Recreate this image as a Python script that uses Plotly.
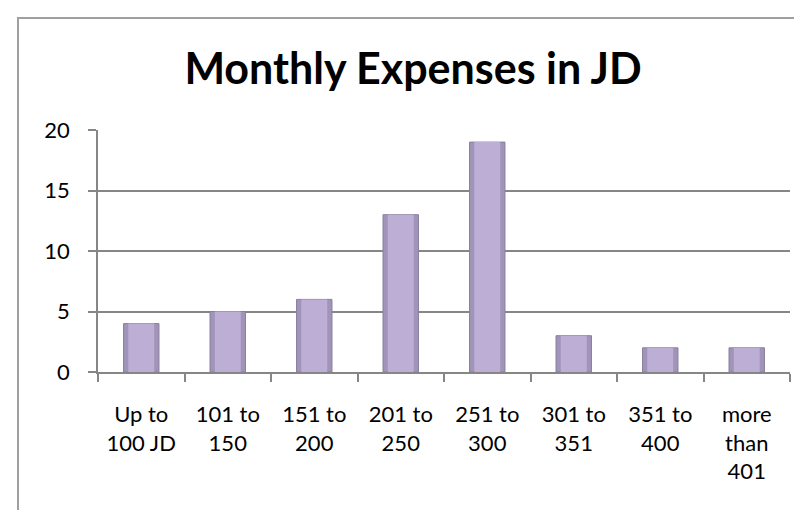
import plotly.graph_objects as go

categories = ["Up to<br>100 JD", "101 to<br>150", "151 to<br>200", "201 to<br>250",
              "251 to<br>300", "301 to<br>351", "351 to<br>400", "more<br>than<br>401"]
counts = [4, 5, 6, 13, 19, 3, 2, 2]
y_ticks = [0, 5, 10, 15, 20]
title_text = "Monthly Expenses in JD"

W, H = 802, 510
L, R, T, B = 90, 20, 122, 146
FONT = "Lato, Carlito, Calibri, sans-serif"
GRID = "#868686"

fig = go.Figure()
# outer (darker edge) bar
fig.add_trace(go.Bar(
    x=categories, y=counts, width=0.41,
    marker=dict(color="#A094B8", line=dict(color="#8A7FA0", width=1)),
    hoverinfo="skip", showlegend=False,
))
# inner (lighter face) bar
fig.add_trace(go.Bar(
    x=categories, y=counts, width=0.30,
    marker=dict(color="#BDAED6", line=dict(width=0)),
    showlegend=False,
))

pw = W - L - R
ph = H - T - B
bx = (10 - L) / pw
by = (H - B - 10) / ph

fig.update_layout(
    width=W, height=H,
    margin=dict(l=L, r=R, t=T, b=B, pad=0),
    paper_bgcolor="white", plot_bgcolor="white",
    barmode="overlay",
    font=dict(family=FONT, size=22, color="black"),
    title=dict(text="<b>" + title_text + "</b>", x=0.505, xanchor="center",
               y=1 - 61 / H, yanchor="middle", yref="container",
               font=dict(family=FONT, size=43, color="black")),
    xaxis=dict(
        showline=True, linecolor=GRID, linewidth=1.5,
        ticks="outside", ticklen=8, tickcolor=GRID, tickwidth=1.5,
        tickson="boundaries", showgrid=False,
        tickfont=dict(size=22), range=[-0.5, len(counts) - 0.5],
        ticklabelstandoff=22, fixedrange=True,
    ),
    yaxis=dict(
        range=[0, 20], tickvals=y_ticks, ticktext=[str(v) for v in y_ticks],
        showline=True, linecolor=GRID, linewidth=1.5,
        showgrid=True, gridcolor=GRID, gridwidth=1.5,
        ticks="outside", ticklen=8, tickcolor=GRID, tickwidth=1.5,
        tickfont=dict(size=22), zeroline=False,
        ticklabelstandoff=14, fixedrange=True,
    ),
    shapes=[dict(type="rect", xref="paper", yref="paper",
                 x0=bx, x1=2, y0=-2, y1=by,
                 line=dict(color="#A0A0A0", width=2), layer="above")],
)

fig.write_html("out.html")
